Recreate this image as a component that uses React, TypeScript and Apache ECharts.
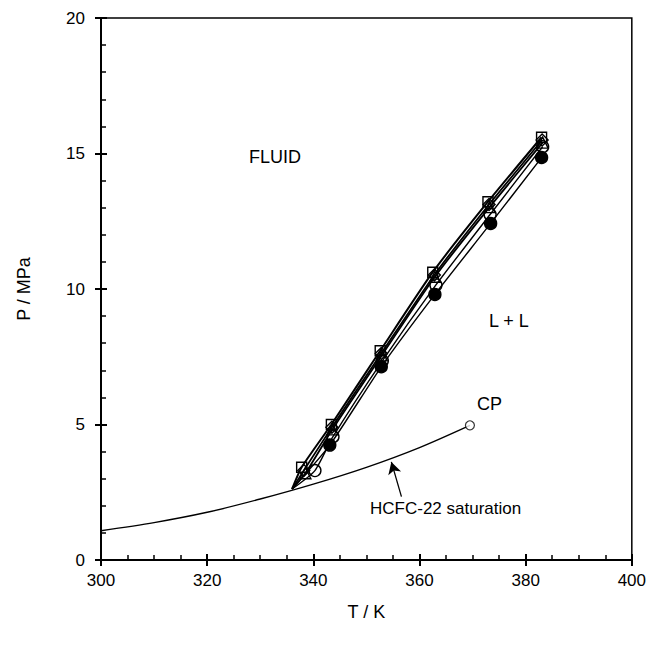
import React, { useEffect, useRef } from "react";
import * as echarts from "echarts";

// Temperature (K) / pressure (MPa) data
const startPoint: [number, number] = [336.0, 2.62];

const squareT = [337.8, 343.4, 352.6, 362.5, 372.9, 383.0];
const squareP = [3.42, 5.0, 7.72, 10.62, 13.22, 15.6];

const diamondT = [338.2, 343.5, 352.8, 362.8, 373.1, 383.1];
const diamondP = [3.3, 4.9, 7.62, 10.52, 13.12, 15.5];

const triangleT = [338.5, 343.6, 352.9, 362.9, 373.2, 383.2];
const triangleP = [3.2, 4.82, 7.55, 10.45, 13.02, 15.4];

const openCircleT = [340.3, 343.7, 353.0, 363.1, 373.3, 383.2];
const openCircleP = [3.3, 4.55, 7.35, 10.15, 12.75, 15.25];

const filledCircleT = [343.1, 352.8, 362.9, 373.4, 383.0];
const filledCircleP = [4.24, 7.13, 9.8, 12.42, 14.85];

const satT = [300, 310, 320, 330, 340, 350, 360, 369.5];
const satP = [1.08, 1.38, 1.76, 2.25, 2.8, 3.42, 4.15, 4.97];

const cpPoint: [number, number] = [369.5, 4.97];

const arrowTail: [number, number] = [356.6, 2.34];
const arrowTip: [number, number] = [354.7, 3.62];

const xMin = 300, xMax = 400, xStep = 20;
const yMin = 0, yMax = 20, yStep = 5;

const FONT = "'Liberation Sans', Arial, sans-serif";

function pairs(t: number[], p: number[], withStart: boolean) {
  const pts: any[] = t.map((v, i) => [v, p[i]]);
  if (withStart) pts.unshift({ value: startPoint, symbol: "none" });
  return pts;
}

export default function App() {
  const ref = useRef<HTMLDivElement>(null);
  useEffect(() => {
    if (!ref.current) return;
    const chart = echarts.init(ref.current, undefined, { renderer: "svg" });
    const lineSeries = (
      name: string,
      t: number[],
      p: number[],
      symbol: string,
      size: number,
      width: number,
      filled: boolean
    ) => ({
      name,
      type: "line",
      data: pairs(t, p, true),
      smooth: 0.2,
      symbol,
      symbolSize: size,
      showAllSymbol: true,
      lineStyle: { color: "#000", width },
      itemStyle: {
        color: filled ? "#000" : "rgba(255,255,255,0)",
        borderColor: "#000",
        borderWidth: 1.4,
      },
      z: 3,
    });
    const axisCommon = {
      axisLine: { show: true, lineStyle: { color: "#000", width: 2 } },
      splitLine: { show: false },
    };
    chart.setOption({
      animation: false,
      backgroundColor: "#fff",
      grid: {
        left: 101,
        right: 17,
        top: 18,
        bottom: 86,
        show: true,
        borderColor: "#000",
        borderWidth: 1.5,
        backgroundColor: "transparent",
      },
      xAxis: [
        {
          type: "value",
          min: xMin,
          max: xMax,
          interval: xStep,
          name: "T / K",
          nameLocation: "middle",
          nameGap: 43,
          nameTextStyle: { fontFamily: FONT, fontSize: 18, color: "#000" },
          ...axisCommon,
          axisTick: { show: true, inside: true, length: 6, lineStyle: { color: "#000", width: 2 } },
          minorTick: { show: true, splitNumber: 4, length: 5, lineStyle: { color: "#000", width: 1.5 } },
          axisLabel: { fontFamily: FONT, fontSize: 17, color: "#000", margin: 12 },
        },
        {
          type: "value",
          min: xMin,
          max: xMax,
          interval: xStep,
          position: "bottom",
          axisLine: { show: false },
          axisTick: { show: true, inside: false, length: 6, lineStyle: { color: "#000", width: 2 } },
          axisLabel: { show: false },
          splitLine: { show: false },
        },
      ],
      yAxis: [
        {
          type: "value",
          min: yMin,
          max: yMax,
          interval: yStep,
          name: "P / MPa",
          nameLocation: "middle",
          nameGap: 68,
          nameTextStyle: { fontFamily: FONT, fontSize: 18, color: "#000" },
          ...axisCommon,
          axisTick: { show: true, inside: true, length: 6, lineStyle: { color: "#000", width: 2 } },
          minorTick: { show: true, splitNumber: 5, length: 5, lineStyle: { color: "#000", width: 1.5 } },
          axisLabel: { fontFamily: FONT, fontSize: 17, color: "#000", margin: 16 },
        },
        {
          type: "value",
          min: yMin,
          max: yMax,
          interval: yStep,
          position: "left",
          axisLine: { show: false },
          axisTick: { show: true, inside: false, length: 6, lineStyle: { color: "#000", width: 2 } },
          axisLabel: { show: false },
          splitLine: { show: false },
        },
      ],
      series: [
        {
          name: "HCFC-22 saturation",
          type: "line",
          data: satT.map((v, i) => [v, satP[i]]),
          smooth: 0.3,
          symbol: "none",
          lineStyle: { color: "#000", width: 1.4 },
          z: 2,
          markLine: {
            silent: true,
            symbol: ["none", "arrow"],
            symbolSize: [10, 12],
            lineStyle: { color: "#000", width: 1.3, type: "solid" },
            label: { show: false },
            data: [[{ coord: arrowTail }, { coord: arrowTip }]],
          },
        },
        {
          name: "CP",
          type: "scatter",
          data: [cpPoint],
          symbol: "circle",
          symbolSize: 9,
          itemStyle: { color: "#fff", borderColor: "#000", borderWidth: 1.2 },
          z: 4,
        },
        lineSeries("filled circle", filledCircleT, filledCircleP, "circle", 12, 1.4, true),
        lineSeries("open circle", openCircleT, openCircleP, "circle", 12, 1.4, false),
        lineSeries("triangle", triangleT, triangleP, "triangle", 11, 1.8, false),
        lineSeries("diamond", diamondT, diamondP, "diamond", 12, 1.8, false),
        lineSeries("square", squareT, squareP, "rect", 10, 2, false),
      ],
      graphic: [
        { type: "text", left: 249, top: 148, style: { text: "FLUID", fontFamily: FONT, fontSize: 18, fill: "#000" } },
        { type: "text", left: 489, top: 312, style: { text: "L + L", fontFamily: FONT, fontSize: 18, fill: "#000" } },
        { type: "text", left: 477, top: 395, style: { text: "CP", fontFamily: FONT, fontSize: 18, fill: "#000" } },
        { type: "text", left: 370, top: 500, style: { text: "HCFC-22 saturation", fontFamily: FONT, fontSize: 17, fill: "#000" } },
      ],
    });
    return () => chart.dispose();
  }, []);
  return <div ref={ref} style={{ width: 649, height: 646, position: "absolute", left: 0, top: 0 }} />;
}
